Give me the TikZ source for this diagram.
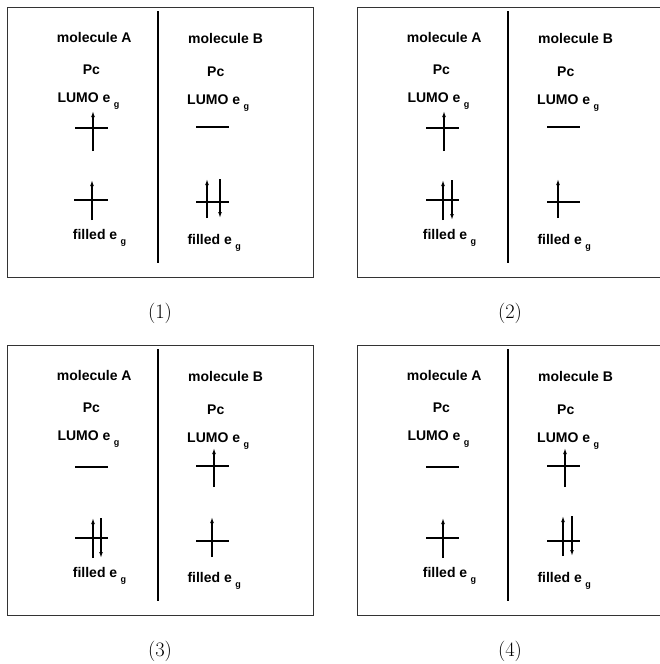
\documentclass[tikz,border=0pt]{standalone}
\usepackage{fontspec}
\newfontfamily\labfont{Liberation Sans}
\usetikzlibrary{arrows.meta}
\newcommand\labstyle{\labfont\bfseries\fontsize{14}{16}\selectfont}
\newcommand\subg{\hspace{3.5pt}\raisebox{-5pt}{\fontsize{9}{9}\selectfont g}}
\tikzset{
  lbl/.style={font=\labstyle, inner sep=0pt, anchor=base west},
  frame/.style={draw=black!80, line width=0.9pt},
  divider/.style={line width=1.4pt},
  lvl/.style={line width=1.3pt},
  spin/.style={line width=1.3pt, -{Latex[length=6pt,width=3.8pt]}},
  panellabel/.style={font=\fontsize{20.5}{24}\selectfont, inner sep=0pt}
}
\newcommand\panelbase[4]{%
  \begin{scope}[shift={(#2,#3)}]
    \coordinate (#1-nw) at (7,7); \coordinate (#1-se) at (313,277);
    \draw[frame] (#1-nw) rectangle (#1-se);
    \coordinate (#1-dtop) at (158,11); \coordinate (#1-dbot) at (158,263);
    \draw[divider] (#1-dtop) -- (#1-dbot);
    \node[lbl] (#1-molA) at (56.7,42.7) {molecule A};
    \node[lbl] (#1-molB) at (188,43.3) {molecule B};
    \node[lbl] (#1-pcA) at (82.7,74) {Pc};
    \node[lbl] (#1-pcB) at (207,76) {Pc};
    \node[lbl] (#1-lumoA) at (57.3,102.7) {LUMO e\subg};
    \node[lbl] (#1-lumoB) at (187,104.3) {LUMO e\subg};
    \node[lbl] (#1-filA) at (72.7,239.3) {filled e\subg};
    \node[lbl] (#1-filB) at (187.3,244.3) {filled e\subg};
    \node[panellabel] (#1-cap) at (160,313) {(#4)};
  \end{scope}}
\newcommand\lvlempty[4]{%
  \coordinate (#1-l) at (#2,#4); \coordinate (#1-r) at (#3,#4);
  \draw[lvl] (#1-l) -- (#1-r);}
\newcommand\lvlup[7]{%
  \lvlempty{#1}{#2}{#3}{#4}%
  \coordinate (#1-ub) at (#5,#6); \coordinate (#1-ut) at (#5,#7);
  \draw[spin] (#1-ub) -- (#1-ut);}
\newcommand\lvlpair[8]{%
  \lvlempty{#1}{#2}{#3}{#4}%
  \coordinate (#1-ub) at (#5,#7); \coordinate (#1-ut) at (#5,#8);
  \coordinate (#1-dt) at (#6,#8); \coordinate (#1-db) at (#6,#7);
  \draw[spin] (#1-ub) -- (#1-ut);
  \draw[spin] (#1-dt) -- (#1-db);}
\begin{document}
\begin{tikzpicture}[x=1pt, y=-1pt]
  \useasboundingbox (0,0) rectangle (659,664);
  \panelbase{p1}{0}{0}{1}
  \panelbase{p2}{350}{0}{2}
  \panelbase{p3}{0}{338}{3}
  \panelbase{p4}{350}{338}{4}
  % panel 1
  \lvlup{p1AL}{75}{108}{128}{93}{151}{111}
  \lvlempty{p1BL}{196}{229}{127}
  \lvlup{p1AF}{74}{108}{200}{92}{220}{180}
  \lvlpair{p1BF}{196}{229}{202}{207}{220}{218}{179}
  % panel 2
  \begin{scope}[shift={(350,0)}]
    \lvlup{p2AL}{76}{109}{128}{94}{151}{111}
    \lvlempty{p2BL}{197}{230}{127}
    \lvlpair{p2AF}{76}{109}{200}{93}{102}{220}{180}
    \lvlup{p2BF}{197}{230}{202}{208}{218}{179}
  \end{scope}
  % panel 3
  \begin{scope}[shift={(0,338)}]
    \lvlempty{p3AL}{75}{108}{129}
    \lvlup{p3BL}{196}{229}{128}{214}{149}{110}
    \lvlpair{p3AF}{75}{108}{200}{93}{101}{220}{180}
    \lvlup{p3BF}{196}{229}{203}{212}{219}{179}
  \end{scope}
  % panel 4
  \begin{scope}[shift={(350,338)}]
    \lvlempty{p4AL}{76}{109}{129}
    \lvlup{p4AF}{76}{109}{200}{93}{220}{180}
    \lvlup{p4BL}{197}{230}{128}{215}{149}{110}
    \lvlpair{p4BF}{197}{230}{203}{213}{222}{218}{178}
  \end{scope}
\end{tikzpicture}
\end{document}
